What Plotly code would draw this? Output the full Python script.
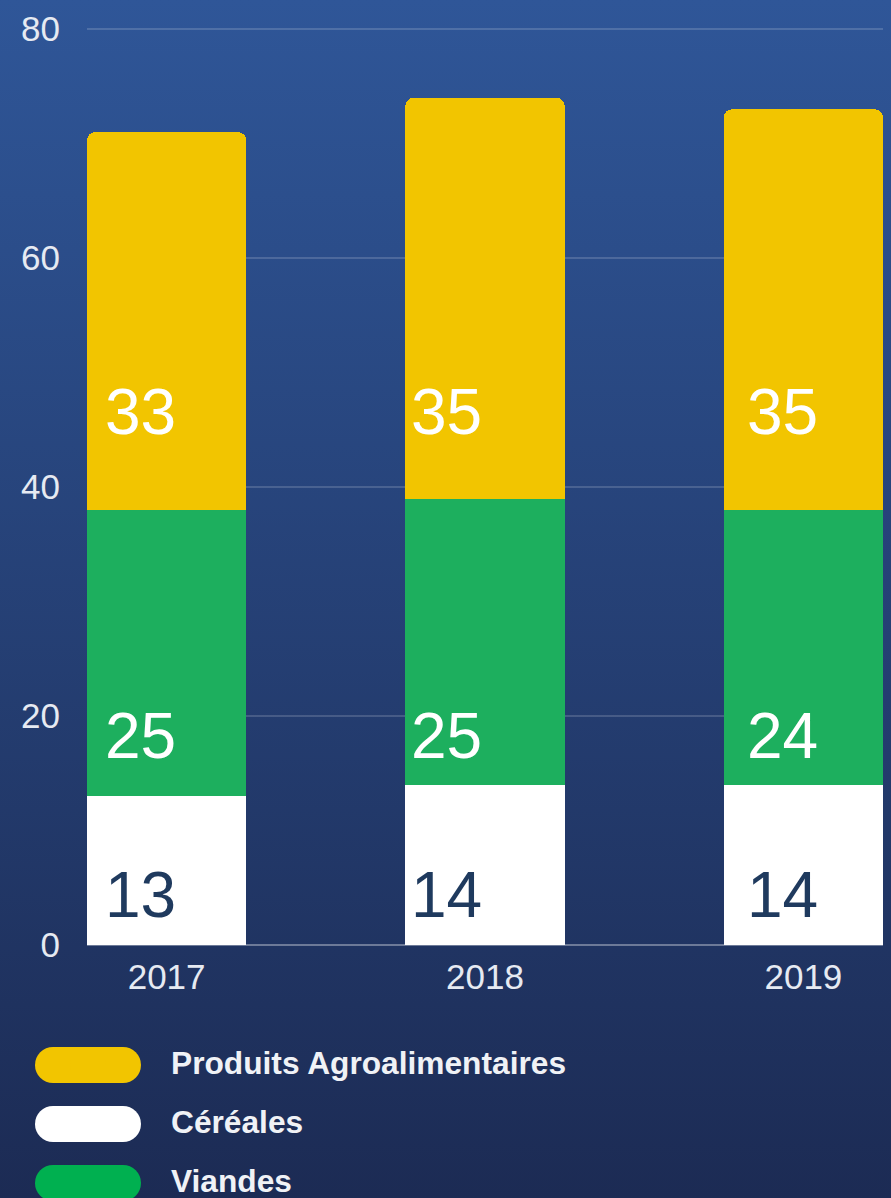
import base64

import plotly.graph_objects as go

# ------------------------------------------------------------------
# Data
# ------------------------------------------------------------------
years = ["2017", "2018", "2019"]
cereales = [13, 14, 14]
viandes = [25, 25, 24]
produits = [33, 35, 35]

series_names = ["Produits Agroalimentaires", "Céréales", "Viandes"]
y_ticks = [0, 20, 40, 60, 80]

# ------------------------------------------------------------------
# Styling / geometry
# ------------------------------------------------------------------
W, H = 891, 1198
M_L, M_R, M_T, M_B = 87, 8, 28, 253
PW, PH = W - M_L - M_R, H - M_T - M_B

YELLOW = "#f2c500"
GREEN = "#1daf5e"
LEGEND_GREEN = "#00b050"
WHITE = "#ffffff"
NAVY = "#1f3a5e"
FONT = "Liberation Sans, Arial, sans-serif"

# label anchor heights (data units) and per-column offsets (px from bar left)
label_y = {"cereales": 4.4, "viandes": 18.3, "produits": 46.6}
label_dx = [20, 8, 26]
bar_half_px = 79


def px_x(p):
    return (p - M_L) / PW


def px_y(p):
    return 1 - (p - M_T) / PH


# background gradient as an svg data uri
svg = (
    f'<svg xmlns="http://www.w3.org/2000/svg" width="{W}" height="{H}">'
    '<defs><linearGradient id="g" x1="0" y1="0" x2="0" y2="1">'
    '<stop offset="0" stop-color="#2f5698"/>'
    '<stop offset="1" stop-color="#1c2b54"/>'
    "</linearGradient></defs>"
    f'<rect width="{W}" height="{H}" fill="url(#g)"/></svg>'
)
bg_uri = "data:image/svg+xml;base64," + base64.b64encode(svg.encode()).decode()

fig = go.Figure()
for name, vals, color in [
    ("Céréales", cereales, WHITE),
    ("Viandes", viandes, GREEN),
    ("Produits Agroalimentaires", produits, YELLOW),
]:
    fig.add_trace(
        go.Bar(
            x=list(range(len(years))),
            y=vals,
            name=name,
            marker=dict(color=color, line=dict(width=0)),
            width=0.5,
            showlegend=False,
            hoverinfo="skip",
        )
    )

annotations = []
for i in range(len(years)):
    for key, vals, col in [
        ("cereales", cereales, NAVY),
        ("viandes", viandes, WHITE),
        ("produits", produits, WHITE),
    ]:
        annotations.append(
            dict(
                x=i,
                y=label_y[key],
                xref="x",
                yref="y",
                text=str(vals[i]),
                showarrow=False,
                xanchor="left",
                yanchor="middle",
                xshift=-bar_half_px + label_dx[i] - 5,
                font=dict(family=FONT, size=64, color=col),
            )
        )

# custom legend with pill markers
shapes = []
legend_colors = [YELLOW, WHITE, LEGEND_GREEN]
for k, (name, color) in enumerate(zip(series_names, legend_colors)):
    cy = 1065 + k * 59
    x0, x1, r = 35, 141, 18
    shapes.append(
        dict(type="rect", xref="paper", yref="paper",
             x0=px_x(x0 + r), x1=px_x(x1 - r), y0=px_y(cy + r), y1=px_y(cy - r),
             fillcolor=color, line=dict(width=0), layer="above")
    )
    for cx in (x0 + r, x1 - r):
        shapes.append(
            dict(type="circle", xref="paper", yref="paper",
                 x0=px_x(cx - r), x1=px_x(cx + r), y0=px_y(cy + r), y1=px_y(cy - r),
                 fillcolor=color, line=dict(width=0), layer="above")
        )
    annotations.append(
        dict(
            x=px_x(169), y=px_y(cy - 2), xref="paper", yref="paper",
            text=f"<b>{name}</b>", showarrow=False,
            xanchor="left", yanchor="middle",
            font=dict(family=FONT, size=31.7, color="#f0f2f6"),
        )
    )

fig.update_layout(
    width=W,
    height=H,
    margin=dict(l=M_L, r=M_R, t=M_T, b=M_B),
    barmode="stack",
    barcornerradius=8,
    paper_bgcolor="#26427a",
    plot_bgcolor="rgba(0,0,0,0)",
    font=dict(family=FONT),
    showlegend=False,
    xaxis=dict(
        range=[-0.25, 2.25],
        tickmode="array",
        tickvals=list(range(len(years))),
        ticktext=years,
        showgrid=False,
        zeroline=False,
        showline=False,
        ticks="",
        ticklabelstandoff=8,
        tickfont=dict(family=FONT, size=35, color="#e6eaf2"),
        fixedrange=True,
    ),
    yaxis=dict(
        range=[0, 80.1],
        tickvals=y_ticks,
        showgrid=True,
        gridcolor="rgba(255,255,255,0.16)",
        gridwidth=1.5,
        zeroline=True,
        zerolinecolor="rgba(255,255,255,0.35)",
        zerolinewidth=2,
        showline=False,
        ticks="",
        ticklabelstandoff=26,
        tickfont=dict(family=FONT, size=35, color="#e6eaf2"),
        fixedrange=True,
    ),
    images=[
        dict(
            source=bg_uri,
            xref="paper", yref="paper",
            x=px_x(0), y=px_y(0),
            sizex=W / PW, sizey=H / PH,
            xanchor="left", yanchor="top",
            sizing="stretch", layer="below",
        )
    ],
    shapes=shapes,
    annotations=annotations,
)

# drop the default page margin so the figure sits at the window's corner
fig.write_html(
    "out.html",
    config={"displayModeBar": False},
    post_script="document.body.style.margin='0';document.body.style.overflow='hidden';",
)
